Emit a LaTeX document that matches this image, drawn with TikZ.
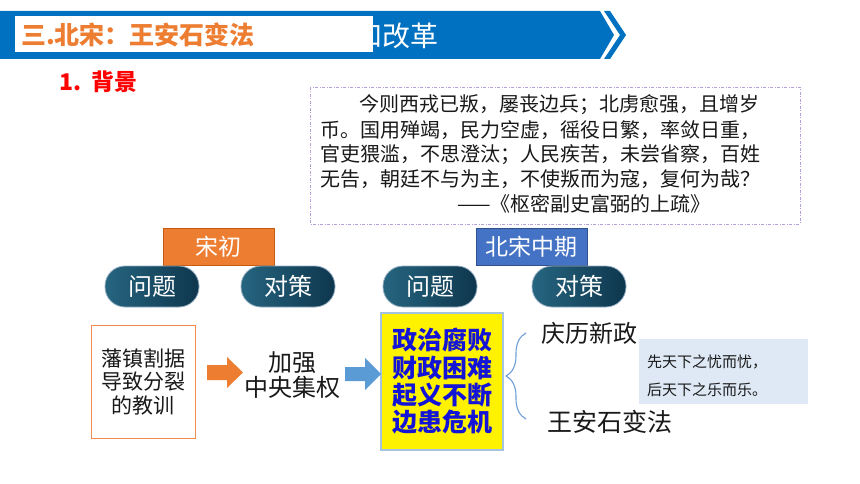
\documentclass[tikz,border=0pt]{standalone}
\usepackage{fontspec}
\setmainfont{Noto Sans CJK SC}
\usetikzlibrary{decorations.pathreplacing}
\definecolor{bannerblue}{HTML}{0070C0}
\definecolor{torange}{HTML}{ED7D31}
\definecolor{darkorange}{HTML}{C55A11}
\definecolor{midblue}{HTML}{4472C4}
\definecolor{midbluedark}{HTML}{2F528F}
\definecolor{arrowblue}{HTML}{5B9BD5}
\definecolor{pillL}{RGB}{38,101,128}
\definecolor{pillR}{RGB}{14,54,77}
\definecolor{pillB}{RGB}{150,175,195}
\definecolor{quoteB}{RGB}{180,160,215}
\definecolor{ybord}{RGB}{165,195,222}
\definecolor{ytext}{RGB}{20,20,215}
\definecolor{lightbox}{RGB}{222,233,245}
\definecolor{braceblue}{RGB}{110,160,215}
\definecolor{txt}{RGB}{25,25,25}
\definecolor{lessonB}{RGB}{240,140,80}
\newcommand\fs[1]{\fontsize{#1}{#1}\selectfont}
\newcommand\qtext[2]{\hbox to #1{\XeTeXlinebreaklocale "zh"\XeTeXlinebreakskip=0pt plus 1fil #2}}
\tikzset{
  pill/.style={rectangle, rounded corners=20pt, minimum width=94pt, minimum height=41pt,
    left color=pillL, right color=pillR, draw=pillB, line width=0.8pt, text=white,
    font=\fs{24}, inner sep=0pt},
  era/.style={rectangle, minimum width=111pt, minimum height=37pt, text=white,
    font=\fs{23}, inner sep=0pt, line width=0.8pt},
  qline/.style={anchor=west, inner sep=0pt, font=\fs{20}, text=txt},
  plain/.style={inner sep=0pt, align=center, text=txt},
}
\begin{document}
\begin{tikzpicture}[x=1pt,y=-1pt]
\useasboundingbox (0,0) rectangle (860,484);
\fill[white] (0,0) rectangle (860,484);
% banner
\fill[bannerblue] (0,11) -- (600,11) -- (614,35) -- (600,59) -- (0,59) -- cycle;
\fill[bannerblue] (604,11) -- (610,11) -- (626,35) -- (610,59) -- (604,59) -- (620,35) -- cycle;
\node[anchor=west, inner sep=0pt, text=white, font=\fs{28}] (sub) at (354,36) {和改革};
\fill[white] (15,16) rectangle (373,52);
\node[anchor=west, inner sep=0pt, text=torange, font=\fs{25}\bfseries] (title) at (21,35) {三.北宋：王安石变法};
% section
\node[anchor=west, inner sep=0pt, text=red, font=\fs{23}\bfseries] (sec) at (59,82) {1.\ \ 背景};
% quote box
\draw[quoteB, line width=0.9pt, dash pattern=on 3pt off 1.5pt on 1pt off 1.5pt] (310,87) rectangle (800,224);
\node[qline] (q1) at (359,105) {\qtext{431pt}{今则西戎已叛，屡丧边兵；北虏愈强，且增岁}};
\node[qline] (q2) at (320,130) {\qtext{472pt}{币。国用殚竭，民力空虚，徭役日繁，率敛日重，}};
\node[qline] (q3) at (320,155) {\qtext{472pt}{官吏猥滥，不思澄汰；人民疾苦，未尝省察，百姓}};
\node[qline] (q4) at (320,179) {\qtext{460pt}{无告，朝廷不与为主，不使叛而为寇，复何为哉？}};
\node[qline] (q5) at (457,204) {\qtext{270pt}{——《枢密副史富弼的上疏》}};
% era headers
\node[era, fill=torange, draw=darkorange] (song) at (218.5,246.5) {宋初};
\node[era, fill=midblue, draw=midbluedark] (mid) at (531.5,246.5) {北宋中期};
% pills
\node[pill] (p1) at (152,286.5) {问题};
\node[pill] (p2) at (288,286.5) {对策};
\node[pill] (p3) at (430,286.5) {问题};
\node[pill] (p4) at (579,286.5) {对策};
% bottom row
\node[draw=lessonB, line width=0.9pt, minimum width=104pt, minimum height=113pt,
  inner sep=0pt, align=center, font=\fontsize{21}{23.5}\selectfont, text=txt] (lesson) at (143,381.5)
  {藩镇割据\\导致分裂\\的教训};
\node[plain, font=\fontsize{24}{25}\selectfont] (central) at (292,375.5) {加强\\中央集权};
\node[draw=ybord, fill=yellow, line width=1.2pt, minimum width=122pt, minimum height=137pt,
  inner sep=0pt, align=center, font=\fontsize{25}{27.3}\selectfont\bfseries, text=ytext] (crisis) at (442,381.5)
  {政治腐败\\财政困难\\起义不断\\边患危机};
% block arrows
\fill[torange] (207,365) -- (227,365) -- (227,357) -- (243,372.5) -- (227,388) -- (227,380) -- (207,380) -- cycle;
\fill[arrowblue] (345,367) -- (365,367) -- (365,358) -- (381,374) -- (365,390) -- (365,381) -- (345,381) -- cycle;
\node[plain, font=\fs{24}] (qingli) at (589.5,333) {庆历新政};
\node[plain, font=\fs{25}] (wang) at (610,422) {王安石变法};
\coordinate (bt) at (526,333);
\coordinate (bb) at (526,419);
\draw[braceblue, line width=1.1pt, decorate, decoration={brace, amplitude=20pt}] (bb) -- (bt);
\node[fill=lightbox, minimum width=169pt, minimum height=65pt, inner sep=0pt] (quote2) at (723.5,371.5) {};
\node[anchor=west, inner sep=0pt, align=left, font=\fontsize{15}{28}\selectfont, text=txt] (motto) at (647,376)
  {先天下之忧而忧，\\后天下之乐而乐。};
\end{tikzpicture}
\end{document}
